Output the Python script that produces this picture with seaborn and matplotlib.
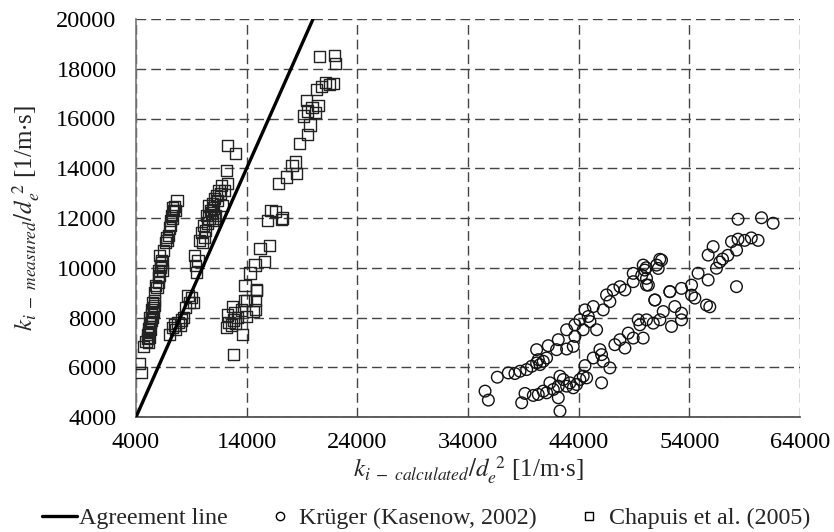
import matplotlib
matplotlib.use("Agg")
import matplotlib.pyplot as plt
import seaborn as sns
import pandas as pd
from matplotlib.lines import Line2D

# ---------------- data ----------------
# Chapuis et al. (2005) squares: (calculated, measured)
chapuis_x = [4350, 4450, 4650,
             4900, 5000, 5100, 5200, 5000, 5150, 5100, 5250, 5350, 5300, 5400,
             5250, 5400, 5500, 5600, 5400, 5550, 5700, 5500, 5650, 5700, 5900,
             5800, 6000, 6000, 6150, 6050, 6200, 6400, 6200, 6350, 6300, 6150,
             6500, 6650, 6800, 6900, 6750, 7000, 7150, 7100, 7300, 7200, 7350,
             7300, 7500, 7600, 7700,
             7000, 7300, 7500, 7800, 8000, 8300, 8500, 8800, 9000, 8700, 9200, 7600, 8100,
             9300, 9400, 9500, 9600, 9700, 9900, 10000, 10200, 10100, 10300, 10500,
             10400, 10600, 10700, 10800, 10600, 10900, 11000, 11100, 11200, 11300,
             11500, 11400, 11700, 11600, 12000, 12200, 12300, 12300, 13000, 10900,
             11100, 11800,
             12780, 12200, 12400, 12600, 12800, 13000, 12900, 13200, 13500, 12700,
             12300, 14000, 14900, 14800, 14000, 13850, 14570, 14750, 13600, 14900,
             13850, 14300, 14750, 15650, 15200, 16100,
             15900, 17200, 16200, 17150, 16600, 16860, 17600, 18500, 18400, 18100,
             18810, 19530, 19720, 19100, 19500, 19900, 20200, 20450, 19400, 20350,
             20800, 21100, 21500, 21800, 20600, 21960, 22030]
chapuis_y = [6150, 5800, 6850,
             7050, 7150, 7000, 7200, 7300, 7400, 7550, 7650, 7500, 7800, 7900,
             8000, 8100, 8000, 8200, 8300, 8400, 8500, 8600, 8700, 9000, 9200,
             9300, 9400, 9600, 9700, 9900, 10000, 9900, 10100, 10200, 10300, 10500,
             10700, 11000, 11100, 11300, 11200, 11600, 11700, 11900, 12000, 12100, 12300,
             12400, 12450, 12300, 12700,
             7300, 7600, 7700, 7800, 7700, 8000, 8400, 8600, 8800, 8900, 8600, 7500, 7900,
             10500, 10100, 9800, 10300, 11100, 11400, 11000, 11200, 11700, 11500, 11800,
             12100, 12000, 12300, 12200, 12500, 12600, 12400, 12800, 12100, 12900,
             13100, 12700, 13300, 13000, 13100, 13900, 13400, 14900, 14600, 11900,
             12000, 12500,
             6530, 7600, 7800, 7700, 7900, 7750, 8200, 8000, 8300, 8450,
             8100, 8700, 9130, 8330, 8030, 8700, 8230, 8690, 7300, 9100,
             9300, 9790, 10110, 10240, 10790, 10900,
             11900, 12000, 12300, 11950, 12250, 13390, 13650, 13800, 14250, 14100,
             15010, 15340, 15740, 16100, 16300, 16450, 16250, 16540, 16740, 17150,
             17300, 17430, 17350, 17400, 18480, 18550, 18220]

# Krüger (Kasenow, 2002) circles
kruger_x = [35540, 35840, 36650, 37640, 38240, 38700, 39300, 39750, 40200, 40500,
            40800, 40350, 41100, 40200, 41250, 42000, 42160, 42910, 43510, 42910,
            43660, 43660, 44110, 44570, 44870, 45320, 45620, 44410, 45020, 46220,
            46820, 46520, 47120, 47730, 48180, 48930, 48930, 49830, 49980, 50130,
            50130, 51040, 51490, 51190,
            39150, 38850, 39900, 40350, 40800, 41100, 41400, 41710, 42160, 42160,
            42310, 42610, 42910, 43210, 43510, 43810, 44110, 44410, 44720, 44570,
            45320, 46070, 45920, 46070, 46220, 46820, 47270, 47730, 48180, 48480,
            48930, 49380, 49830, 49530, 50130, 50740, 51340, 51640, 52390, 52690,
            53290, 53290, 50890, 52240, 42310,
            50880, 52240, 53290, 54200, 54200, 54500, 55550, 55850, 54790, 55700,
            56450, 56750, 57480, 57000, 55700, 56150, 58270, 57810, 58400, 59000,
            59600, 60210, 58400, 60520, 61570, 58260, 51330, 49700, 50100, 50300]
kruger_y = [5040, 4680, 5600, 5773, 5747, 5840, 5907, 6040, 6173, 6107,
            6240, 6307, 6373, 6707, 6867, 6707, 7107, 6733, 6840, 7507,
            7240, 7707, 7907, 8307, 8040, 8440, 7507, 7507, 7840, 8307,
            8640, 8907, 9107, 9240, 9107, 9440, 9773, 10107, 9907, 9573,
            9307, 10107, 10307, 9973,
            4947, 4573, 4867, 4907, 5040, 4973, 5373, 5107, 5240, 4773,
            5640, 5507, 5240, 5373, 5173, 5307, 5507, 5640, 5573, 6067,
            6373, 5373, 6707, 6507, 6240, 5973, 6907, 7107, 6773, 7373,
            7173, 7907, 7173, 7707, 7907, 7773, 7907, 8240, 7640, 8440,
            8173, 7907, 8707, 9040, 4240,
            8700, 9040, 9170, 9300, 8900, 8780, 8500, 8430, 9780, 9510,
            9980, 10230, 10500, 10350, 10510, 10850, 10710, 11050, 11150, 11100,
            11200, 11100, 11950, 12010, 11790, 9240, 10340, 9700, 10000, 9300]

agree_x = [4000, 20000]
agree_y = [4000, 20000]

x_ticks = [4000, 14000, 24000, 34000, 44000, 54000, 64000]
y_ticks = [4000, 6000, 8000, 10000, 12000, 14000, 16000, 18000, 20000]

# ---------------- style ----------------
sns.set_style("white")
plt.rcParams['font.family'] = ['Liberation Serif', 'DejaVu Serif']
plt.rcParams['mathtext.fontset'] = 'stix'

fig = plt.figure(figsize=(8.34, 5.32), dpi=100)
ax = fig.add_axes([136/834, 1-417/532, (800-136)/834, (417-19)/532])

df_c = pd.DataFrame({'x': chapuis_x, 'y': chapuis_y})
df_k = pd.DataFrame({'x': kruger_x, 'y': kruger_y})
df_a = pd.DataFrame({'x': agree_x, 'y': agree_y})

sns.lineplot(data=df_a, x='x', y='y', ax=ax, color='black', lw=2.4, zorder=4)
sns.scatterplot(data=df_c, x='x', y='y', ax=ax, marker='s', s=64,
                facecolors='none', edgecolor='#222222', linewidth=1.0, zorder=3)
sns.scatterplot(data=df_k, x='x', y='y', ax=ax, marker='o', s=70,
                facecolors='none', edgecolor='#111111', linewidth=1.0, zorder=3)

ax.set_xlim(4000, 64000)
ax.set_ylim(4000, 20000)
ax.set_xticks(x_ticks)
ax.set_yticks(y_ticks)
ax.tick_params(axis='both', length=0, labelsize=17.5, colors='black')
ax.tick_params(axis='y', pad=14)
ax.tick_params(axis='x', pad=11)
ax.grid(True, color='#444444', linestyle=(0, (7, 3.6)), linewidth=1.0)
ax.set_axisbelow(True)

for s in ['top', 'right']:
    ax.spines[s].set_visible(False)
ax.spines['left'].set_color('#777777')
ax.spines['left'].set_linewidth(1.2)
ax.spines['bottom'].set_color('#444444')
ax.spines['bottom'].set_linewidth(1.2)

ax.set_xlabel(r'$k_{i\ -\ calculated}/d_e^{\ 2}$ [1/m$\cdot$s]', fontsize=18, labelpad=1)
ax.set_ylabel(r'$k_{i\ -\ measured}/d_e^{\ 2}$ [1/m$\cdot$s]', fontsize=18, labelpad=10)

handles = [
    Line2D([], [], color='black', lw=2.4),
    Line2D([], [], marker='o', linestyle='none', markerfacecolor='none',
           markeredgecolor='black', markersize=6, markeredgewidth=1.0),
    Line2D([], [], marker='s', linestyle='none', markerfacecolor='none',
           markeredgecolor='black', markersize=6, markeredgewidth=1.0),
]
labels = ['Agreement line', 'Krüger (Kasenow, 2002)', 'Chapuis et al. (2005)']
fig.legend(handles, labels, loc='center', bbox_to_anchor=(426/834, 1-518/532), ncol=3,
           frameon=False, fontsize=17.3, handlelength=1.45, handletextpad=0.08,
           columnspacing=1.45, borderaxespad=0)

fig.savefig('out.png', dpi=100)
